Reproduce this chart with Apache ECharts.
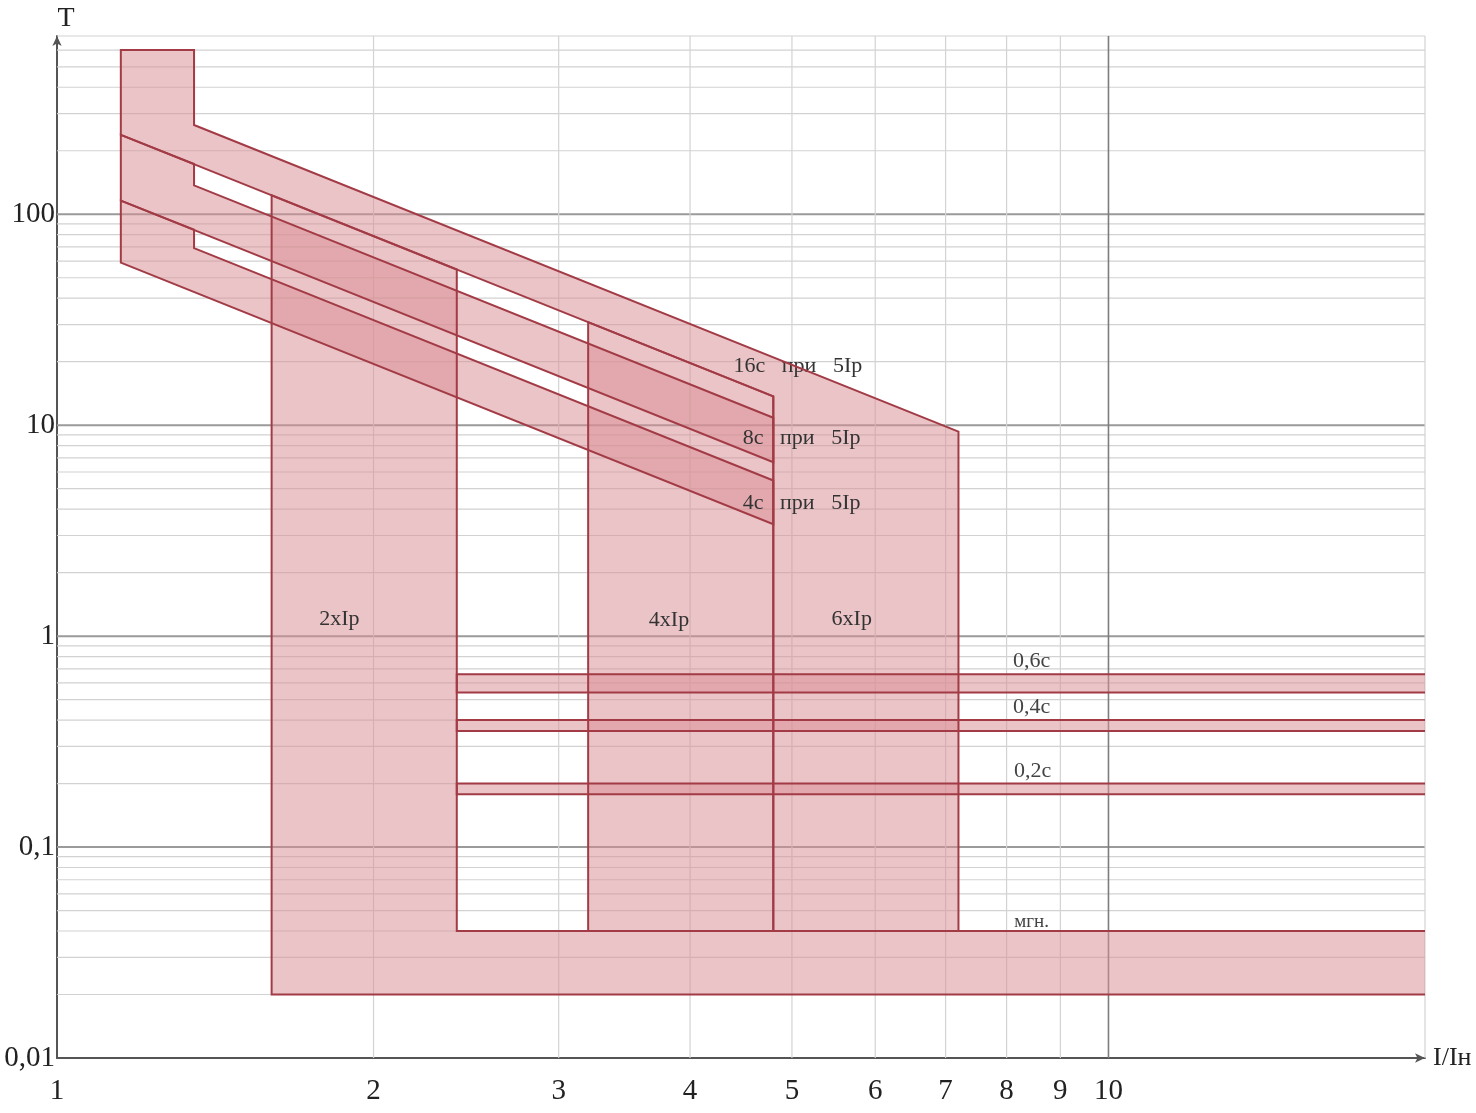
<!DOCTYPE html>
<html><head><meta charset="utf-8">
<script src="https://cdn.jsdelivr.net/npm/echarts@6/dist/echarts.min.js"></script>
<style>html,body{margin:0;padding:0;background:#fff}#c{width:1476px;height:1113px}</style>
</head><body><div id="c"></div>
<script>
// ---------------- data ----------------
const currentTicks = [1, 2, 3, 4, 5, 6, 7, 8, 9, 10];      // I/Iн tick labels
const timeTicks = [0.01, 0.1, 1, 10, 100];                   // T tick labels
const currentRange = [1, 20];
const timeRange = [0.01, 700];

// inverse-time bands [I/Iн, T seconds] (16s band merges with the 6xIp zone)
const band16s = [[1.15, 600], [1.35, 600], [1.35, 265], [7.2, 9.32], [7.2, 0.04], [4.8, 0.04], [4.8, 13.7], [1.15, 238]];
const band8s  = [[1.15, 238], [1.35, 173], [1.35, 137], [4.8, 10.85], [4.8, 6.68], [1.15, 116]];
const band4s  = [[1.15, 116], [1.35, 84.5], [1.35, 69.1], [4.8, 5.47], [4.8, 3.39], [1.15, 59]];
// current-cutoff zones
const band2xIp = [[20, 0.04], [2.4, 0.04], [2.4, 54.7], [1.6, 123], [1.6, 0.02], [20, 0.02]];
const band4xIp = [[3.2, 30.8], [4.8, 13.7], [4.8, 0.04], [3.2, 0.04]];
// definite-time bands
const band06 = [[20, 0.66], [2.4, 0.66], [2.4, 0.54], [20, 0.54]];
const band04 = [[20, 0.40], [2.4, 0.40], [2.4, 0.355], [20, 0.355]];
const band02 = [[20, 0.20], [2.4, 0.20], [2.4, 0.178], [20, 0.178]];

// annotations
const noteTexts = ['16c   при   5Ip', '8c   при   5Ip', '4c   при   5Ip', '2xIp', '4xIp', '6xIp', '0,6c', '0,4c', '0,2c', 'мгн.'];
const noteI = [4.4, 4.49, 4.49, 1.856, 3.82, 5.70, 8.45, 8.45, 8.47, 8.45];
const noteT = [19.0, 8.68, 4.27, 1.2, 1.19, 1.2, 0.762, 0.461, 0.229, 0.0441];

// ---------------- build ----------------
const shapes = [
  { pts: band16s, closed: true },
  { pts: band8s, closed: true },
  { pts: band4s, closed: true },
  { pts: band2xIp, closed: false },
  { pts: band4xIp, closed: true },
  { pts: band06, closed: false },
  { pts: band04, closed: false },
  { pts: band02, closed: false }
];

const FILL = 'rgba(217,144,149,0.53)';
const STROKE = '#a23b46';
const SERIF = '"Liberation Serif", "DejaVu Serif", serif';

// grid line values from the decades
const hGrid = [];
for (let d = 0.01; d < 1000; d *= 10) {
  for (let m = 1; m <= 9; m++) {
    const v = +(m * d).toPrecision(3);
    if (v > timeRange[0] && v <= timeRange[1]) hGrid.push([currentRange[0], v, m === 1 ? 1 : 0]);
  }
}
const vGrid = [];
currentTicks.concat([currentRange[1]]).forEach(v => {
  if (v > currentRange[0]) vGrid.push([v, timeRange[0], v === 10 ? 1 : 0]);
});

const chart = echarts.init(document.getElementById('c'), null, { renderer: 'canvas' });
chart.setOption({
  animation: false,
  backgroundColor: '#fff',
  grid: { left: 57, right: 51, top: 36, bottom: 55 },
  xAxis: {
    type: 'log', logBase: 10, min: currentRange[0], max: currentRange[1],
    axisLine: { show: true, lineStyle: { color: '#555', width: 2 }, symbol: ['none', 'arrow'], symbolSize: [7, 10] },
    axisTick: { show: false },
    splitLine: { show: false },
    axisLabel: { customValues: currentTicks, fontSize: 29, fontFamily: SERIF, color: '#222', margin: 19, showMaxLabel: true },
    name: 'I/Iн', nameLocation: 'end', nameGap: 8,
    nameTextStyle: { fontSize: 26, fontFamily: SERIF, color: '#222' }
  },
  yAxis: {
    type: 'log', logBase: 10, min: timeRange[0], max: timeRange[1],
    axisLine: { show: true, lineStyle: { color: '#555', width: 2 }, symbol: ['none', 'arrow'], symbolSize: [7, 10] },
    axisTick: { show: false },
    splitLine: { show: false },
    axisLabel: { customValues: timeTicks, fontSize: 29, fontFamily: SERIF, color: '#222', margin: 2,
      formatter: v => String(v).replace('.', ',') },
    name: 'T', nameLocation: 'end', nameGap: 3,
    nameTextStyle: { fontSize: 28, fontFamily: SERIF, color: '#222', padding: [0, 0, 0, 18] }
  },
  series: [
    {
      type: 'custom', silent: true, z: 1,
      dimensions: ['x', 'y', 'major'], encode: { x: 'x', y: 'y' },
      data: hGrid,
      renderItem(params, api) {
        const v = api.value(1), major = api.value(2);
        const a = api.coord([currentRange[0], v]), b = api.coord([currentRange[1], v]);
        return { type: 'line', shape: { x1: a[0], y1: a[1], x2: b[0], y2: b[1] },
          style: { stroke: major ? '#9a9a9a' : '#d2d2d2', lineWidth: major ? 2 : 1.2 } };
      }
    },
    {
      type: 'custom', silent: true, z: 1,
      dimensions: ['x', 'y', 'major'], encode: { x: 'x', y: 'y' },
      data: vGrid,
      renderItem(params, api) {
        const v = api.value(0), major = api.value(2);
        const a = api.coord([v, timeRange[0]]), b = api.coord([v, timeRange[1]]);
        return { type: 'line', shape: { x1: a[0], y1: a[1], x2: b[0], y2: b[1] },
          style: { stroke: major ? '#7d7d7d' : '#d3d3d3', lineWidth: major ? 1.6 : 1.2 } };
      }
    },
    {
      type: 'custom', silent: true, z: 2,
      dimensions: ['x', 'y', 'i'], encode: { x: 'x', y: 'y' },
      data: shapes.map((s, i) => [s.pts[0][0], s.pts[0][1], i]),
      renderItem(params, api) {
        const s = shapes[params.dataIndex];
        return { type: 'polygon', shape: { points: s.pts.map(p => api.coord(p)) }, style: { fill: FILL } };
      }
    },
    {
      type: 'custom', silent: true, z: 3,
      dimensions: ['x', 'y', 'i'], encode: { x: 'x', y: 'y' },
      data: noteTexts.map((t, i) => [noteI[i], noteT[i], i]),
      renderItem(params, api) {
        const i = params.dataIndex;
        const p = api.coord([noteI[i], noteT[i]]);
        const left = i < 3;
        const small = i === 9;
        return { type: 'text', x: p[0], y: p[1],
          style: { text: noteTexts[i], fill: i >= 6 ? '#444' : '#333',
            font: (small ? '19px ' : '22px ') + SERIF,
            align: left ? 'left' : 'center', verticalAlign: 'middle' } };
      }
    },
    {
      type: 'custom', silent: true, z: 4,
      dimensions: ['x', 'y', 'i'], encode: { x: 'x', y: 'y' },
      data: shapes.map((s, i) => [s.pts[0][0], s.pts[0][1], i]),
      renderItem(params, api) {
        const s = shapes[params.dataIndex];
        return { type: s.closed ? 'polygon' : 'polyline', shape: { points: s.pts.map(p => api.coord(p)) },
          style: { fill: 'none', stroke: STROKE, lineWidth: 2 } };
      }
    }
  ]
});
</script>
</body></html>
